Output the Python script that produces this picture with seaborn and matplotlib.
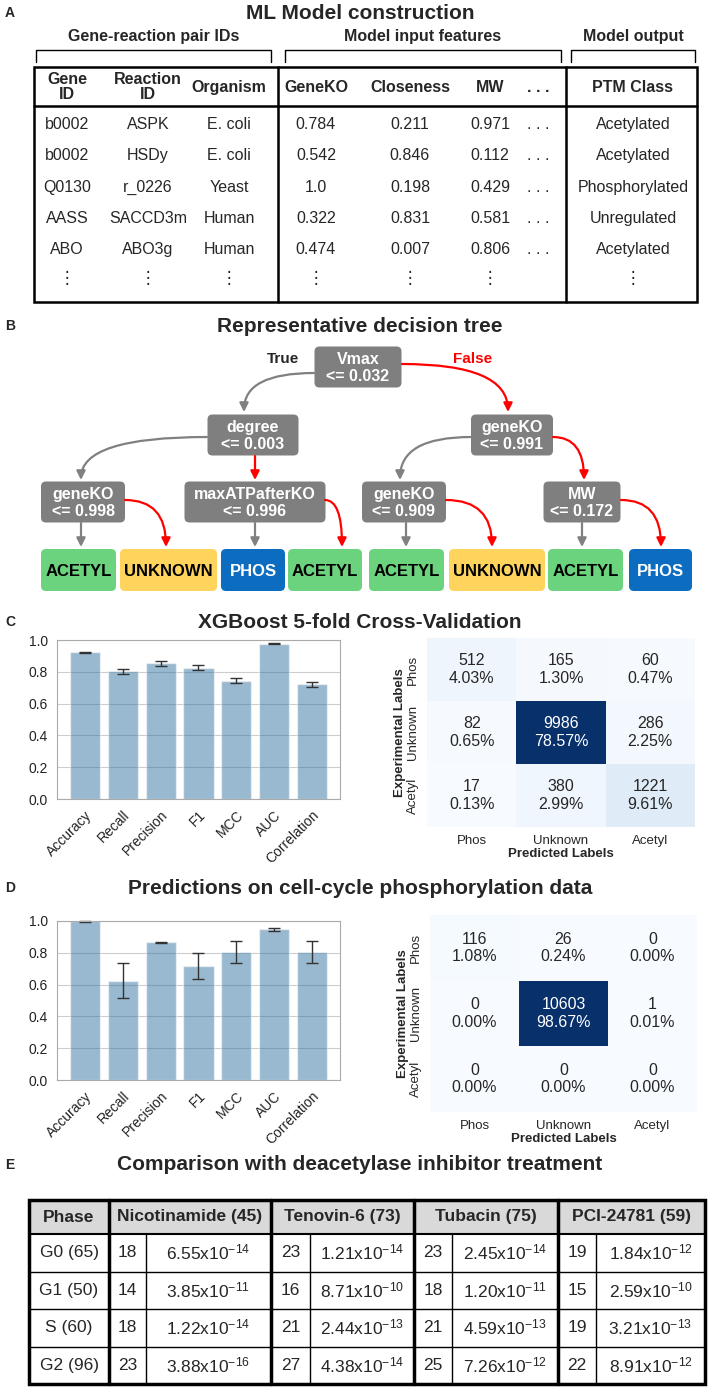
import numpy as np
import pandas as pd
import matplotlib
matplotlib.use("Agg")
import matplotlib.pyplot as plt
from matplotlib.patches import FancyBboxPatch, FancyArrowPatch, Rectangle
import seaborn as sns

#Panel A data
gene_ids = ["b0002", "b0002", "Q0130", "AASS", "ABO"]
reaction_ids = ["ASPK", "HSDy", "r_0226", "SACCD3m", "ABO3g"]
organisms = ["E. coli", "E. coli", "Yeast", "Human", "Human"]
gene_ko = ["0.784", "0.542", "1.0", "0.322", "0.474"]
closeness = ["0.211", "0.846", "0.198", "0.831", "0.007"]
mol_weight = ["0.971", "0.112", "0.429", "0.581", "0.806"]
ptm_class = ["Acetylated", "Acetylated", "Phosphorylated", "Unregulated", "Acetylated"]

#Panel C/D data
metrics = ["Accuracy", "Recall", "Precision", "F1", "MCC", "AUC", "Correlation"]
cv_scores = [0.922, 0.802, 0.855, 0.827, 0.745, 0.975, 0.722]
cv_err = [0.004, 0.017, 0.016, 0.013, 0.018, 0.003, 0.015]
cc_scores = [0.998, 0.625, 0.867, 0.716, 0.806, 0.947, 0.806]
cc_err = [0.002, 0.112, 0.004, 0.082, 0.068, 0.007, 0.068]
classes = ["Phos", "Unknown", "Acetyl"]
cv_matrix = [[512, 165, 60], [82, 9986, 286], [17, 380, 1221]]
cc_matrix = [[116, 26, 0], [0, 10603, 1], [0, 0, 0]]

#Panel E data
phases = ["G0 (65)", "G1 (50)", "S (60)", "G2 (96)"]
drugs = ["Nicotinamide (45)", "Tenovin-6 (73)", "Tubacin (75)", "PCI-24781 (59)"]
overlap = [[18, 23, 23, 19], [14, 16, 18, 15], [18, 21, 21, 19], [23, 27, 25, 22]]
pval_mant = [["6.55", "1.21", "2.45", "1.84"], ["3.85", "8.71", "1.20", "2.59"],
             ["1.22", "2.44", "4.59", "3.21"], ["3.88", "4.38", "7.26", "8.91"]]
pval_exp = [[-14, -14, -14, -12], [-11, -10, -11, -10], [-14, -13, -13, -13], [-16, -14, -12, -12]]

sns.set_style("whitegrid")
plt.rcParams["font.family"] = ["Liberation Sans", "DejaVu Sans"]
plt.rcParams["mathtext.default"] = "regular"

W, H = 708, 1388
fig = plt.figure(figsize=(W / 100, H / 100), dpi=100)
bg = fig.add_axes([0, 0, 1, 1])
bg.set_xlim(0, W)
bg.set_ylim(H, 0)
bg.axis("off")

def px_axes(x0, y0, x1, y1):
    return fig.add_axes([x0 / W, 1 - y1 / H, (x1 - x0) / W, (y1 - y0) / H])

#Panel titles
for letter, y, title in [("A", 13, "ML Model construction"),
                         ("B", 326, "Representative decision tree"),
                         ("C", 622, "XGBoost 5-fold Cross-Validation"),
                         ("D", 888, "Predictions on cell-cycle phosphorylation data"),
                         ("E", 1165, "Comparison with deacetylase inhibitor treatment")]:
    bg.text(5, y, letter, fontsize=10, fontweight="bold", va="center")
    bg.text(360, y, title, fontsize=15, fontweight="bold", ha="center", va="center")

#Panel A ----------------------------------
for x0, x1, label in [(36, 271, "Gene-reaction pair IDs"), (285, 561, "Model input features"),
                      (571, 695, "Model output")]:
    bg.text((x0 + x1) / 2, 36, label, fontsize=11.5, fontweight="bold", ha="center", va="center")
    bg.plot([x0, x0, x1, x1], [62, 50, 50, 62], color="black", lw=1)

bg.add_patch(Rectangle((34, 67), 663, 235, fill=False, ec="black", lw=1.8))
bg.plot([34, 697], [106, 106], color="black", lw=1.8)
for x in [278, 566]:
    bg.plot([x, x], [67, 302], color="black", lw=1.8)

col_x = [67, 148, 229, 316, 410, 490, 538, 633]
headers = ["Gene\nID", "Reaction\nID", "Organism", "GeneKO", "Closeness", "MW", ". . .", "PTM Class"]
for x, h in zip(col_x, headers):
    bg.text(x, 87, h, fontsize=11.5, fontweight="bold", ha="center", va="center", linespacing=1.05)

row_y = [124, 155, 187, 218, 249]
for i, y in enumerate(row_y):
    vals = [gene_ids[i], reaction_ids[i], organisms[i], gene_ko[i], closeness[i],
            mol_weight[i], ". . .", ptm_class[i]]
    for x, v in zip(col_x, vals):
        bg.text(x, y, v, fontsize=11.5, ha="center", va="center")
for x in col_x:
    if x == 538:
        continue
    bg.text(x, 278, "\u22ee", fontsize=12, ha="center", va="center",
            family=["DejaVu Sans"])

#Panel B ----------------------------------
box_gray = "#7f7f7f"
nodes = [(358, 367, 87, "Vmax\n<= 0.032"),
         (253, 435, 91, "degree\n<= 0.003"),
         (512, 435, 82, "geneKO\n<= 0.991"),
         (83, 502, 84, "geneKO\n<= 0.998"),
         (255, 502, 141, "maxATPafterKO\n<= 0.996"),
         (404, 502, 84, "geneKO\n<= 0.909"),
         (582, 502, 77, "MW\n<= 0.172")]
for cx, cy, w, label in nodes:
    bg.add_patch(FancyBboxPatch((cx - w / 2, cy - 20.5), w, 41,
                                boxstyle="round,pad=0,rounding_size=5", fc=box_gray, ec="none"))
    bg.text(cx, cy + 1, label, color="white", fontsize=11.5, fontweight="bold",
            ha="center", va="center", linespacing=1.15)

leaf_colors = {"ACETYL": "#6bd27d", "UNKNOWN": "#fed45c", "PHOS": "#0b6cc0"}
leaves = [(41, 116, "ACETYL"), (120, 217, "UNKNOWN"), (221, 285, "PHOS"), (288, 362, "ACETYL"),
          (369, 444, "ACETYL"), (449, 545, "UNKNOWN"), (548, 623, "ACETYL"), (629, 692, "PHOS")]
for x0, x1, label in leaves:
    bg.add_patch(FancyBboxPatch((x0, 549), x1 - x0, 42,
                                boxstyle="round,pad=0,rounding_size=5", fc=leaf_colors[label], ec="none"))
    bg.text((x0 + x1) / 2, 571, label, color="white" if label == "PHOS" else "black",
            fontsize=12, fontweight="bold", ha="center", va="center")

bg.text(283, 359, "True", fontsize=11, fontweight="bold", ha="center", va="center")
bg.text(473, 359, "False", fontsize=11, fontweight="bold", ha="center", va="center", color="red")

gray_arrow = "#808080"
edges = [((314, 373), (244, 412), gray_arrow, True),
         ((402, 364), (508, 412), "red", True),
         ((207, 437), (81, 480), gray_arrow, True),
         ((255, 456), (255, 480), "red", False),
         ((471, 437), (400, 480), gray_arrow, True),
         ((553, 437), (584, 480), "red", True),
         ((81, 523), (81, 547), gray_arrow, False),
         ((125, 500), (166, 547), "red", True),
         ((255, 523), (255, 547), gray_arrow, False),
         ((325, 500), (342, 547), "red", True),
         ((406, 523), (406, 547), gray_arrow, False),
         ((446, 500), (492, 547), "red", True),
         ((582, 523), (582, 547), gray_arrow, False),
         ((621, 500), (661, 547), "red", True)]
for start, end, col, curved in edges:
    style = "angle3,angleA=0,angleB=90" if curved else "arc3,rad=0"
    bg.add_patch(FancyArrowPatch(start, end, arrowstyle="-|>", mutation_scale=13,
                                 connectionstyle=style, color=col, lw=1.6,
                                 shrinkA=0, shrinkB=0))

#Panels C and D ---------------------------
def bar_panel(box, scores, errs):
    ax = px_axes(*box)
    df = pd.DataFrame({"metric": metrics, "score": scores})
    sns.barplot(data=df, x="metric", y="score", color="#1f77b4", alpha=0.5,
                edgecolor="white", linewidth=1, width=0.8, errorbar=None, ax=ax)
    ax.errorbar(x=np.arange(len(metrics)), y=scores, yerr=errs, fmt="none",
                ecolor="#333333", elinewidth=1, capsize=4, capthick=1, clip_on=False)
    ax.set_xlim(-0.74, 6.74)
    ax.set_ylim(0, 1.0)
    ax.set_yticks([0, 0.2, 0.4, 0.6, 0.8, 1.0])
    ax.set_xlabel("")
    ax.set_ylabel("")
    ax.grid(axis="x", visible=False)
    ax.tick_params(labelsize=10, colors="#222222", length=3, color="#999999")
    ax.set_xticks(range(len(metrics)))
    ax.set_xticklabels(metrics, rotation=45, ha="right", rotation_mode="anchor")
    for s in ax.spines.values():
        s.set_color("#aaaaaa")

def heat_panel(box, matrix):
    ax = px_axes(*box)
    m = np.array(matrix)
    pct = m / m.sum() * 100
    labels = np.array([["{}\n{:.2f}%".format(m[i, j], pct[i, j]) for j in range(3)] for i in range(3)])
    sns.heatmap(m, annot=labels, fmt="", cmap="Blues", cbar=False, ax=ax,
                annot_kws={"size": 11.5}, xticklabels=classes, yticklabels=classes)
    ax.set_xlabel("Predicted Labels", fontsize=9.5, fontweight="bold", labelpad=1)
    ax.set_ylabel("Experimental Labels", fontsize=9.5, fontweight="bold", labelpad=1)
    ax.tick_params(labelsize=9.5, length=2, color="#999999")
    ax.set_yticklabels(classes, rotation=90, va="center")

bar_panel((57, 640, 340, 799), cv_scores, cv_err)
heat_panel((427, 638, 695, 827), cv_matrix)
bar_panel((57, 921, 340, 1080), cc_scores, cc_err)
heat_panel((430, 915, 697, 1112), cc_matrix)

#Panel E ----------------------------------
top, head_h, row_h = 1200, 34, 37.5
left, right = 29, 705
group_x = [109, 271, 414, 558, 705]
split_x = [146, 310, 452, 596]
bottom = top + head_h + row_h * len(phases)
bg.add_patch(Rectangle((left, top), right - left, head_h, fc="#d9d9d9", ec="none"))
bg.text((left + group_x[0]) / 2, top + head_h / 2, "Phase", fontsize=12.5, fontweight="bold",
        ha="center", va="center")
for k, d in enumerate(drugs):
    bg.text((group_x[k] + group_x[k + 1]) / 2, top + head_h / 2, d, fontsize=12.5,
            fontweight="bold", ha="center", va="center")
for i, ph in enumerate(phases):
    yc = top + head_h + row_h * (i + 0.5)
    bg.text((left + group_x[0]) / 2, yc, ph, fontsize=12.5, ha="center", va="center")
    for k in range(len(drugs)):
        bg.text((group_x[k] + split_x[k]) / 2, yc, str(overlap[i][k]), fontsize=12.5,
                ha="center", va="center")
        bg.text((split_x[k] + group_x[k + 1]) / 2, yc,
                "{}x10$^{{{}}}$".format(pval_mant[i][k], pval_exp[i][k]),
                fontsize=12.5, ha="center", va="center")
    if i > 0:
        bg.plot([left, right], [top + head_h + row_h * i] * 2, color="black", lw=1)
bg.plot([left, right], [top + head_h] * 2, color="black", lw=1.5)
for x in split_x:
    bg.plot([x, x], [top + head_h, bottom], color="black", lw=1)
for x in group_x[:-1]:
    bg.plot([x, x], [top, bottom], color="black", lw=2.5)
bg.add_patch(Rectangle((left, top), right - left, bottom - top, fill=False, ec="black", lw=2.5))

fig.savefig("out.png", dpi=100)
